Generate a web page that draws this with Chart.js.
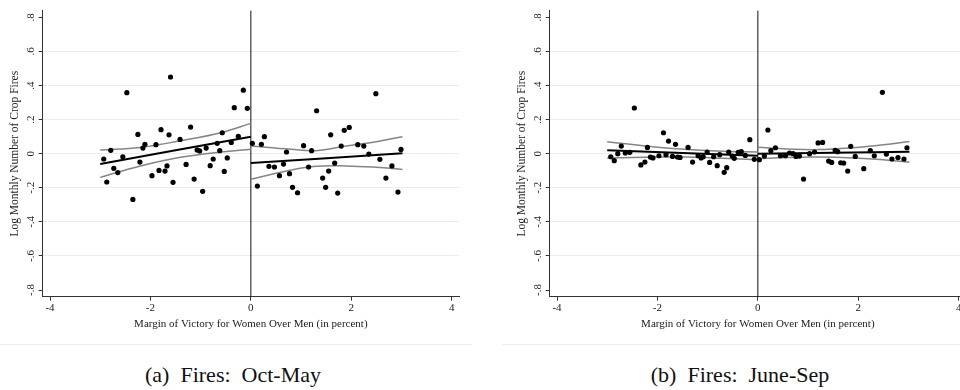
<!DOCTYPE html>
<html>
<head>
<meta charset="utf-8">
<script src="https://cdn.jsdelivr.net/npm/chart.js@4.4.1/dist/chart.umd.min.js"></script>
<style>
  body { margin: 0; width: 960px; height: 390px; overflow: hidden; background: #fff; position: relative; }
  canvas.panel { position: absolute; top: 0; }
  .rule { position: absolute; top: 344px; height: 1px; background: #eeeeee; }
  .caption { position: absolute; top: 363px; line-height: 24px; font-family: "Liberation Serif", "Times New Roman", serif; font-size: 22px; white-space: pre; color: #111; transform: translateX(-50%); }
</style>
</head>
<body>
<canvas id="fireA" class="panel" width="480" height="340" style="left:0px"></canvas>
<canvas id="fireB" class="panel" width="480" height="340" style="left:507px"></canvas>
<div class="rule" style="left:0px; width:472px"></div>
<div class="rule" style="left:502px; width:458px"></div>
<div class="caption" style="left:233px">(a)  Fires:  Oct-May</div>
<div class="caption" style="left:740px">(b)  Fires:  June-Sep</div>
<script>
// axis ticks
const xTicks = [-4, -2, 0, 2, 4];
const xTickLabels = ["-4", "-2", "0", "2", "4"];
const yTicks = [-0.8, -0.6, -0.4, -0.2, 0, 0.2, 0.4, 0.6, 0.8];
const yTickLabels = ["-.8", "-.6", "-.4", "-.2", "0", ".2", ".4", ".6", ".8"];
const xTitle = "Margin of Victory for Women Over Men (in percent)";
const yTitle = "Log Monthly Number of Crop Fires";
const cutoff = 0;

// (a) Oct-May: binned means
const octX = [-2.93, -2.87, -2.79, -2.73, -2.65, -2.55, -2.47, -2.35, -2.25, -2.21, -2.15, -2.11, -1.97, -1.89, -1.83,
  -1.79, -1.71, -1.67, -1.63, -1.60, -1.55, -1.41, -1.29, -1.20, -1.13, -1.07, -1.02, -0.96, -0.89, -0.81, -0.75, -0.67,
  -0.62, -0.57, -0.53, -0.47, -0.39, -0.33, -0.25, -0.15, -0.07,
  0.03, 0.13, 0.21, 0.27, 0.36, 0.47, 0.57, 0.65, 0.71, 0.77, 0.83, 0.93, 1.05, 1.15, 1.21, 1.31, 1.43, 1.49, 1.55,
  1.59, 1.67, 1.73, 1.80, 1.86, 1.96, 2.13, 2.25, 2.35, 2.49, 2.57, 2.69, 2.81, 2.93, 2.99];
const octY = [-0.031, -0.166, 0.020, -0.086, -0.111, -0.018, 0.358, -0.268, 0.113, -0.049, 0.033, 0.055, -0.129, 0.053, -0.098,
  0.141, -0.102, -0.072, 0.111, 0.450, -0.168, 0.084, -0.063, 0.156, -0.149, 0.022, 0.016, -0.221, 0.033, -0.070, -0.031, 0.061,
  0.018, 0.123, -0.104, -0.025, 0.066, 0.270, 0.102, 0.373, 0.266,
  0.061, -0.190, 0.055, 0.100, -0.074, -0.078, -0.129, -0.061, 0.010, -0.117, -0.197, -0.229, 0.047, -0.078, 0.018, 0.252, -0.143, -0.197, -0.102,
  0.111, -0.055, -0.231, 0.045, 0.137, 0.154, 0.053, 0.045, -0.002, 0.352, -0.033, -0.143, -0.072, -0.225, 0.025];
// fitted lines and 95% bands
const octFitLX = [-3, 0];
const octFitLY = [-0.060, 0.100];
const octFitRX = [0, 3.02];
const octFitRY = [-0.055, 0.002];
const octBandLX = [-3, -2.2, -1.4, -0.6, 0];
const octUpperL = [0.022, 0.037, 0.076, 0.123, 0.178];
const octLowerL = [-0.139, -0.072, -0.021, 0.010, 0.026];
const octBandRX = [0, 0.8, 1.3, 1.9, 2.5, 3.02];
const octUpperR = [0.045, 0.026, 0.018, 0.045, 0.070, 0.100];
const octLowerR = [-0.150, -0.096, -0.074, -0.072, -0.080, -0.092];

// (b) June-Sep
const junX = [-2.93, -2.86, -2.79, -2.72, -2.64, -2.55, -2.46, -2.33, -2.25, -2.20, -2.14, -2.09, -1.97, -1.88, -1.83,
  -1.78, -1.70, -1.64, -1.60, -1.55, -1.39, -1.30, -1.19, -1.13, -1.09, -1.01, -0.96, -0.88, -0.81, -0.76, -0.67, -0.62,
  -0.58, -0.51, -0.47, -0.39, -0.33, -0.25, -0.16, -0.07,
  0.03, 0.13, 0.20, 0.26, 0.35, 0.45, 0.55, 0.63, 0.70, 0.76, 0.83, 0.91, 1.03, 1.13, 1.20, 1.29, 1.41, 1.47, 1.54,
  1.59, 1.65, 1.71, 1.79, 1.85, 1.94, 2.11, 2.24, 2.32, 2.48, 2.56, 2.67, 2.79, 2.91, 2.97];
const junY = [-0.018, -0.041, 0.000, 0.045, 0.004, 0.008, 0.268, -0.066, -0.049, 0.037, -0.020, -0.025, -0.012, 0.123, -0.006,
  0.074, -0.016, 0.055, -0.020, -0.022, 0.037, -0.049, -0.012, -0.025, -0.018, 0.010, -0.051, -0.018, -0.070, -0.006, -0.109, -0.082,
  0.010, -0.014, -0.027, 0.008, 0.012, -0.010, 0.082, -0.033,
  -0.035, -0.014, 0.139, 0.018, 0.035, -0.012, -0.012, 0.004, 0.000, -0.016, -0.014, -0.149, 0.000, 0.010, 0.063, 0.066, -0.043, -0.051, 0.020,
  0.012, -0.053, -0.055, -0.102, 0.043, -0.016, -0.088, 0.018, -0.012, 0.360, -0.002, -0.031, -0.023, -0.031, 0.035];
const junFitLX = [-3, 0];
const junFitLY = [0.020, -0.012];
const junFitRX = [0, 3.02];
const junFitRY = [0.000, 0.012];
const junBandLX = [-3, -2, -1.4, -0.7, 0];
const junUpperL = [0.070, 0.038, 0.024, 0.014, 0.010];
const junLowerL = [-0.025, -0.020, -0.020, -0.027, -0.036];
const junBandRX = [0, 0.6, 1.2, 1.9, 2.5, 3.02];
const junUpperR = [0.038, 0.028, 0.024, 0.035, 0.052, 0.072];
const junLowerR = [-0.030, -0.022, -0.020, -0.025, -0.035, -0.050];

const serif = "'Liberation Serif', 'Times New Roman', serif";
const axisFont = { family: serif, size: 11 };
const axisColor = "#333";
const gridColor = "#e6eeef";

function zip(xs, ys) {
  return xs.map((x, i) => ({ x: x, y: ys[i] }));
}

function lineSet(xs, ys, color, width) {
  return {
    data: zip(xs, ys),
    showLine: true,
    borderColor: color,
    borderWidth: width,
    pointRadius: 0,
    tension: 0.4,
  };
}

// vertical line at the threshold
const cutoffPlugin = {
  id: "cutoff",
  beforeDatasetsDraw(chart) {
    let ctx = chart.ctx;
    let area = chart.chartArea;
    let xPix = chart.scales.x.getPixelForValue(cutoff);
    ctx.save();
    ctx.strokeStyle = "#111";
    ctx.lineWidth = 1;
    ctx.beginPath();
    ctx.moveTo(xPix, area.top);
    ctx.lineTo(xPix, area.bottom);
    ctx.stroke();
    ctx.restore();
  },
};

// stata style rotated y labels
const yLabelPlugin = {
  id: "yLabels",
  afterDraw(chart) {
    let ctx = chart.ctx;
    let ys = chart.scales.y;
    ctx.save();
    ctx.fillStyle = "#222";
    ctx.font = "11px " + serif;
    ctx.textAlign = "center";
    ctx.textBaseline = "alphabetic";
    ys.ticks.forEach((t, i) => {
      let yPix = ys.getPixelForValue(t.value);
      ctx.save();
      ctx.translate(ys.right - 9, yPix);
      ctx.rotate(-Math.PI / 2);
      ctx.fillText(yTickLabels[i], 0, 0);
      ctx.restore();
    });
    ctx.restore();
  },
};

function panelConfig(px, py, fitL, fitR, bandL, bandR) {
  return {
    type: "scatter",
    data: {
      datasets: [
        {
          data: zip(px, py),
          backgroundColor: "#000",
          borderWidth: 0,
          pointRadius: 2.6,
        },
        lineSet(fitL[0], fitL[1], "#000", 2),
        lineSet(fitR[0], fitR[1], "#000", 2),
        lineSet(bandL[0], bandL[1], "#858585", 1.5),
        lineSet(bandL[0], bandL[2], "#858585", 1.5),
        lineSet(bandR[0], bandR[1], "#858585", 1.5),
        lineSet(bandR[0], bandR[2], "#858585", 1.5),
      ],
    },
    options: {
      responsive: false,
      animation: false,
      devicePixelRatio: 1,
      layout: { padding: { left: 0, top: 10.7, right: 21, bottom: 5.3 } },
      plugins: { legend: { display: false }, tooltip: { enabled: false } },
      scales: {
        x: {
          type: "linear",
          min: -4.146,
          max: 4.146,
          afterBuildTicks: (s) => { s.ticks = xTicks.map((v) => ({ value: v })); },
          afterFit: (s) => { s.height = 38; },
          ticks: {
            font: axisFont,
            color: "#222",
            padding: 1,
            maxRotation: 0,
            callback: (v, i) => xTickLabels[i],
          },
          grid: { drawOnChartArea: false, tickLength: 4, tickColor: axisColor },
          border: { color: axisColor, width: 1 },
          title: { display: true, text: xTitle, font: axisFont, color: "#222", padding: { top: 0, bottom: 4 } },
        },
        y: {
          type: "linear",
          min: -0.839,
          max: 0.839,
          afterBuildTicks: (s) => { s.ticks = yTicks.map((v) => ({ value: v })); },
          afterFit: (s) => { s.width = 42.7; },
          ticks: { display: false },
          grid: {
            color: (c) => (c.tick && Math.abs(c.tick.value) < 0.7 ? gridColor : "rgba(0,0,0,0)"),
            tickLength: 4,
            tickColor: axisColor,
          },
          border: { color: axisColor, width: 1 },
          title: { display: true, text: yTitle, font: { family: serif, size: 11.5 }, color: "#222", padding: { top: 8, bottom: 0 } },
        },
      },
    },
    plugins: [cutoffPlugin, yLabelPlugin],
  };
}

new Chart(document.getElementById("fireA"), panelConfig(
  octX, octY,
  [octFitLX, octFitLY], [octFitRX, octFitRY],
  [octBandLX, octUpperL, octLowerL], [octBandRX, octUpperR, octLowerR]
));

new Chart(document.getElementById("fireB"), panelConfig(
  junX, junY,
  [junFitLX, junFitLY], [junFitRX, junFitRY],
  [junBandLX, junUpperL, junLowerL], [junBandRX, junUpperR, junLowerR]
));
</script>
</body>
</html>
